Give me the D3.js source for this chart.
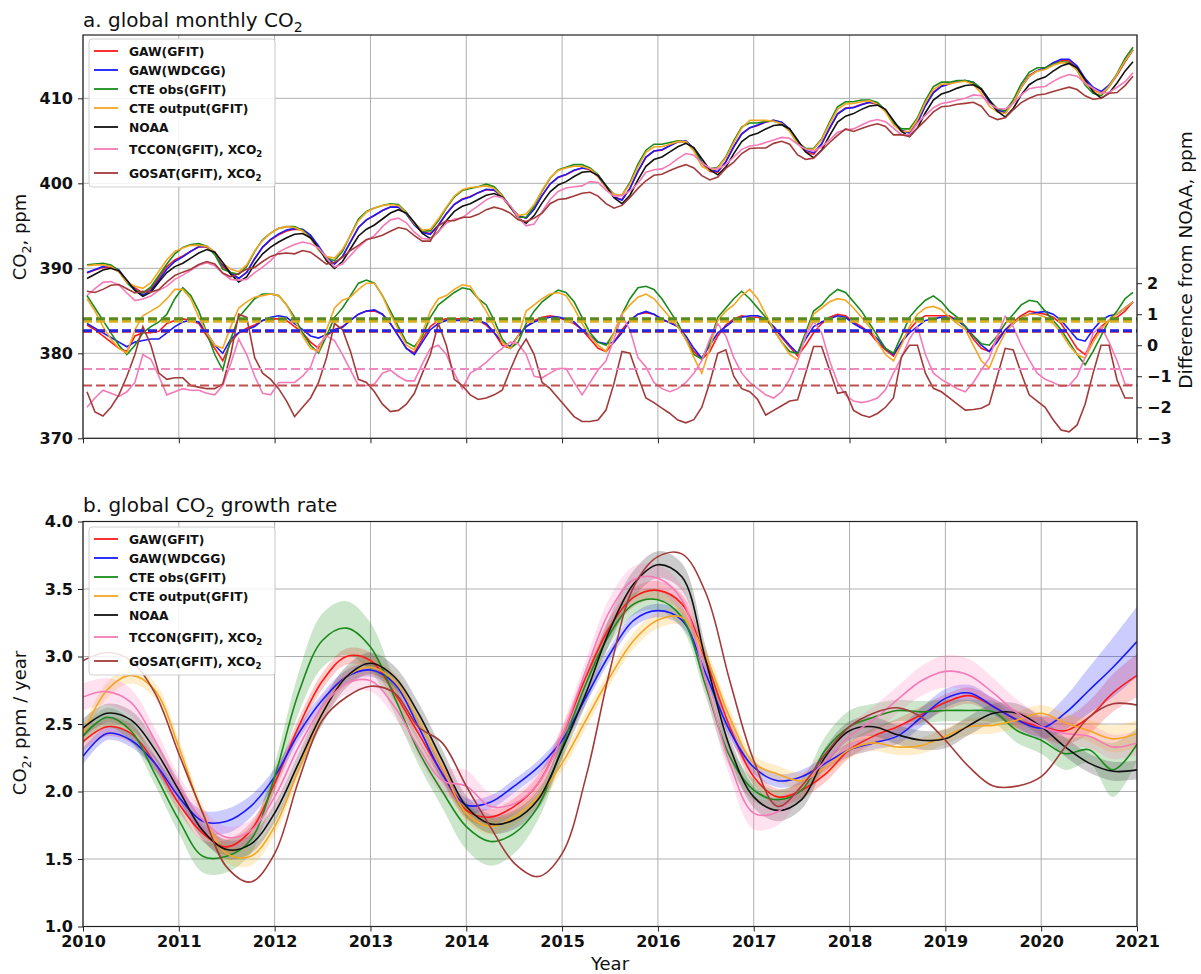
<!DOCTYPE html>
<html>
<head>
<meta charset="utf-8">
<script src="https://cdn.jsdelivr.net/npm/d3@7"></script>
<style>
  body { margin: 0; background: #fff; }
  text { font-family: "DejaVu Sans", sans-serif; }
</style>
</head>
<body>
<script>
// ticks
var yearTicks = [2010, 2011, 2012, 2013, 2014, 2015, 2016, 2017, 2018, 2019, 2020, 2021];
var co2Ticks = [370, 380, 390, 400, 410];
var diffTicks = [-3, -2, -1, 0, 1, 2];
var rateTicks = [1.0, 1.5, 2.0, 2.5, 3.0, 3.5, 4.0];

var seriesNames = ["GAW(GFIT)", "GAW(WDCGG)", "CTE obs(GFIT)", "CTE output(GFIT)", "NOAA",
  "TCCON(GFIT), XCO_2", "GOSAT(GFIT), XCO_2"];

// NOAA global monthly CO2 (ppm), Jan 2010 .. Dec 2020
var noaaMonthly = [
  388.8, 389.3, 389.8, 390.0, 389.7, 388.6, 387.4, 386.7, 387.2, 388.4, 389.5, 390.2,
  390.6, 391.2, 391.8, 392.2, 391.9, 390.7, 389.3, 388.4, 389.0, 390.5, 391.7, 392.5,
  393.1, 393.6, 394.0, 394.1, 393.6, 392.4, 390.9, 390.0, 390.8, 392.3, 393.8, 394.6,
  395.1, 395.8, 396.5, 396.9, 396.5, 395.4, 394.1, 393.5, 394.3, 395.6, 396.7, 397.3,
  397.6, 398.1, 398.6, 398.8, 398.4, 397.3, 395.9, 395.3, 396.2, 397.7, 399.0, 399.8,
  400.2, 400.8, 401.3, 401.4, 400.9, 399.7, 398.3, 397.6, 398.6, 400.4, 402.0, 402.8,
  403.1, 403.7, 404.3, 404.7, 404.2, 402.9, 401.6, 401.0, 401.9, 403.5, 404.9, 405.6,
  405.9, 406.4, 406.8, 406.9, 406.4, 405.1, 403.7, 403.0, 403.9, 405.6, 407.2, 407.9,
  408.2, 408.7, 409.1, 409.2, 408.7, 407.4, 406.1, 405.5, 406.5, 408.3, 409.8, 410.5,
  410.8, 411.2, 411.5, 411.6, 411.1, 409.8, 408.5, 407.8, 408.8, 410.4, 411.6, 412.2,
  412.5, 413.2, 413.8, 414.1, 413.6, 412.2, 410.8, 410.0, 410.6, 411.8, 413.2, 414.3
];

// monthly difference from NOAA (ppm)
var diffGawGfit = [
  0.65, 0.5, 0.3, 0.1, -0.1, -0.2, 0.3, 0.4, 0.4, 0.45, 0.7, 0.8,
  0.85, 0.8, 0.7, 0.3, -0.1, -0.5, 0.1, 0.4, 0.55, 0.65, 0.8, 0.85,
  0.85, 0.8, 0.6, 0.4, 0.1, -0.1, 0.3, 0.5, 0.6, 0.8, 1.0, 1.1,
  1.1, 1.0, 0.7, 0.3, -0.1, -0.25, 0.2, 0.6, 0.8, 0.85, 0.85, 0.85,
  0.85, 0.8, 0.65, 0.4, 0.0, -0.1, 0.3, 0.6, 0.8, 0.9, 0.95, 0.9,
  0.8, 0.7, 0.5, 0.2, -0.1, -0.2, 0.1, 0.5, 0.8, 1.0, 1.05, 1.0,
  0.8, 0.75, 0.6, 0.2, -0.2, -0.45, -0.2, 0.3, 0.65, 0.85, 0.95, 0.9,
  0.9, 0.8, 0.6, 0.25, -0.05, -0.35, 0.0, 0.4, 0.7, 0.9, 1.0, 0.95,
  0.75, 0.6, 0.4, 0.1, -0.15, -0.35, 0.1, 0.5, 0.8, 0.95, 0.95, 0.95,
  0.95, 0.8, 0.6, 0.2, -0.1, -0.2, 0.2, 0.5, 0.75, 0.95, 1.1, 1.05,
  1.0, 0.9, 0.7, 0.3, -0.1, -0.3, 0.2, 0.6, 0.8, 0.9, 1.1, 1.4
];
var diffGawWdcgg = [
  0.7, 0.55, 0.4, 0.25, 0.1, -0.05, 0.1, 0.15, 0.2, 0.2, 0.4, 0.6,
  0.75, 0.8, 0.75, 0.4, 0.0, -0.26, 0.2, 0.4, 0.5, 0.6, 0.8, 0.9,
  0.95, 0.9, 0.7, 0.5, 0.3, 0.23, 0.35, 0.5, 0.58, 0.8, 1.0, 1.1,
  1.14, 1.0, 0.7, 0.3, -0.1, -0.3, 0.1, 0.5, 0.7, 0.8, 0.8, 0.8,
  0.8, 0.8, 0.7, 0.4, 0.1, -0.04, 0.3, 0.6, 0.75, 0.85, 0.9, 0.91,
  0.85, 0.75, 0.5, 0.3, 0.1, 0.05, 0.1, 0.4, 0.8, 1.0, 1.09, 1.0,
  0.85, 0.72, 0.6, 0.3, -0.1, -0.42, 0.0, 0.4, 0.6, 0.8, 0.9, 0.95,
  0.95, 0.85, 0.6, 0.3, 0.0, -0.26, 0.2, 0.6, 0.75, 0.85, 0.95, 0.9,
  0.7, 0.55, 0.45, 0.2, -0.1, -0.3, 0.1, 0.4, 0.6, 0.8, 0.85, 0.9,
  0.9, 0.8, 0.6, 0.3, 0.0, -0.2, 0.1, 0.5, 0.7, 0.9, 1.0, 1.05,
  1.09, 1.0, 0.8, 0.5, 0.2, 0.13, 0.5, 0.8, 0.95, 1.0, 1.2, 1.4
];
var diffCteObs = [
  1.6, 1.2, 0.8, 0.4, 0.0, -0.3, 0.0, 0.4, 0.6, 0.75, 1.0, 1.5,
  1.85, 1.6, 1.1, 0.4, -0.3, -0.8, 0.2, 0.9, 1.2, 1.5, 1.65, 1.65,
  1.6, 1.3, 0.9, 0.4, 0.0, -0.25, 0.3, 0.9, 1.2, 1.6, 2.0, 2.1,
  2.0, 1.6, 1.1, 0.6, 0.1, -0.05, 0.3, 0.9, 1.3, 1.5, 1.7, 1.85,
  1.8, 1.5, 1.3, 0.8, 0.2, -0.1, 0.1, 0.7, 1.1, 1.4, 1.6, 1.78,
  1.7, 1.4, 0.9, 0.4, 0.1, 0.0, 0.4, 1.0, 1.5, 1.85, 1.9, 1.8,
  1.5, 1.1, 0.7, 0.2, -0.3, -0.45, 0.1, 0.9, 1.2, 1.5, 1.74, 1.5,
  1.2, 0.9, 0.5, 0.1, -0.2, -0.26, 0.4, 1.1, 1.3, 1.6, 1.8, 1.7,
  1.4, 1.1, 0.7, 0.3, -0.1, -0.26, 0.3, 0.9, 1.2, 1.45, 1.59, 1.4,
  1.1, 0.9, 0.6, 0.3, 0.05, 0.0, 0.3, 0.7, 1.0, 1.3, 1.45, 1.4,
  1.1, 0.8, 0.5, 0.1, -0.3, -0.63, -0.2, 0.3, 0.8, 1.1, 1.5, 1.7
];
var diffCteOut = [
  1.5, 1.1, 0.6, 0.2, -0.1, -0.25, 0.5, 0.95, 1.1, 1.25, 1.5, 1.8,
  1.8, 1.5, 0.9, 0.4, 0.0, -0.1, 0.6, 1.2, 1.4, 1.55, 1.6, 1.65,
  1.6, 1.3, 0.8, 0.3, -0.1, -0.2, 0.5, 1.2, 1.45, 1.55, 1.8, 2.0,
  2.0, 1.6, 1.0, 0.5, 0.0, -0.15, 0.4, 1.1, 1.5, 1.6, 1.8, 1.95,
  1.9, 1.5, 1.1, 0.6, 0.1, -0.1, 0.3, 1.1, 1.3, 1.5, 1.65, 1.7,
  1.6, 1.2, 0.7, 0.3, 0.0, -0.2, 0.4, 1.0, 1.3, 1.55, 1.65, 1.5,
  1.2, 0.9, 0.6, 0.2, -0.4, -0.9, -0.1, 0.8, 1.1, 1.3, 1.6, 1.8,
  1.5, 1.0, 0.5, 0.1, -0.3, -0.47, 0.3, 1.0, 1.2, 1.4, 1.5, 1.45,
  1.2, 0.9, 0.6, 0.1, -0.3, -0.5, 0.0, 0.6, 1.0, 1.2, 1.25, 1.15,
  0.9, 0.7, 0.5, 0.0, -0.5, -0.74, -0.1, 0.4, 0.7, 0.9, 1.0, 1.0,
  0.9, 0.7, 0.4, 0.0, -0.3, -0.42, 0.1, 0.5, 0.8, 1.0, 1.2, 1.4
];
var diffTccon = [
  -2.0, -1.7, -1.45, -1.55, -1.65, -1.5, -1.2, -0.3, -0.45, -1.0, -1.6, -1.5,
  -1.4, -1.45, -1.45, -1.55, -1.6, -1.3, -0.6, 0.2, -0.3, -1.0, -1.55, -1.6,
  -1.2, -1.2, -1.2, -1.0, -0.7, 0.0, 0.3, 0.15, -0.3, -0.8, -1.3, -1.3,
  -1.25, -0.9, -0.8, -1.0, -1.15, -1.15, -0.6, -0.1, 0.0, -0.3, -0.9, -1.4,
  -0.9, -0.75, -0.55, -0.3, -0.1, 0.1, 0.05, -0.3, -1.0, -1.05, -0.9, -0.75,
  -0.75, -1.2, -1.6, -1.2, -0.8, -0.5, 0.2, 0.95, 0.5, -0.4, -0.7, -1.2,
  -1.4, -1.5, -1.4, -1.2, -0.9, -0.5, 0.2, 0.7, 0.3, -0.4, -0.9, -1.2,
  -1.4, -1.6, -1.7, -1.5, -1.1, -0.5, 0.3, 0.77, 0.4, -0.5, -1.2, -1.6,
  -1.8, -1.85, -1.8, -1.7, -1.44, -0.9, -0.4, 0.2, 0.6, -0.3, -0.9, -1.1,
  -1.25, -1.4, -1.5, -1.2, -0.8, -0.42, 0.3, 0.93, 0.6, 0.0, -0.47, -0.9,
  -1.1, -1.2, -1.33, -1.3, -1.0, -0.4, 0.39, 0.6, 0.1, -0.5, -1.25, -1.28
];
var diffGosat = [
  -1.5, -2.15, -2.28, -2.0, -1.6, -1.0, -0.3, 0.6, 0.0, -0.9, -1.1, -1.05,
  -1.05, -1.3, -1.35, -1.4, -1.4, -1.25, -0.3, 1.0, 0.9, -0.4, -0.9, -1.1,
  -1.4, -1.8, -2.3, -2.0, -1.7, -1.2, -0.4, 0.7, 0.5, -0.2, -1.1, -1.2,
  -1.5, -1.9, -2.14, -2.1, -1.9, -1.55, -0.9, -0.3, 0.7, 0.0, -1.1, -1.3,
  -1.6, -1.75, -1.7, -1.6, -1.45, -0.8, -0.2, 0.2, -0.3, -1.2, -1.4, -1.7,
  -2.0, -2.3, -2.46, -2.46, -2.41, -2.09, -1.23, -0.2, -0.26, -1.0, -1.7, -1.85,
  -2.03, -2.2, -2.41, -2.5, -2.4, -2.0, -1.2, -0.26, -0.15, -1.0, -1.4, -1.5,
  -1.75, -2.25, -2.1, -1.95, -1.8, -1.76, -0.9, -0.04, -0.04, -0.8, -1.55, -1.5,
  -2.1, -2.25, -2.32, -2.2, -2.0, -1.7, -0.37, 0.0, 0.0, -0.9, -1.39, -1.5,
  -1.7, -1.9, -2.09, -2.07, -2.03, -1.9, -1.0, -0.1, -0.15, -0.9, -1.6, -1.8,
  -2.0, -2.4, -2.73, -2.79, -2.57, -1.9, -0.9, 0.0, 0.0, -1.12, -1.7, -1.7
];
// mean difference (dashed lines), ppm
var meanDiffs = [0.45, 0.47, 0.85, 0.77, null, -0.77, -1.3];

// growth rate, ppm/year, quarterly 2010.0 .. 2021.0
var rateGawGfit = [2.37, 2.48, 2.43, 2.21, 1.91, 1.69, 1.59, 1.71, 2.06, 2.48, 2.82, 3.0, 2.97, 2.73, 2.43,
  2.13, 1.86, 1.81, 1.89, 2.06, 2.41, 2.85, 3.22, 3.44, 3.49, 3.39, 2.97, 2.48, 2.11, 1.96,
  2.01, 2.13, 2.31, 2.41, 2.48, 2.57, 2.66, 2.71, 2.63, 2.53, 2.48, 2.45, 2.55, 2.73, 2.86];
var rateGawWdcgg = [2.26, 2.43, 2.38, 2.21, 1.96, 1.78, 1.78, 1.89, 2.11, 2.43, 2.68, 2.85, 2.9, 2.8, 2.48,
  2.13, 1.9, 1.92, 2.04, 2.18, 2.38, 2.7, 3.02, 3.27, 3.34, 3.27, 2.87, 2.45, 2.18, 2.08,
  2.11, 2.21, 2.31, 2.36, 2.41, 2.55, 2.69, 2.73, 2.63, 2.53, 2.47, 2.58, 2.75, 2.92, 3.11];
var rateCteObs = [2.41, 2.55, 2.45, 2.13, 1.79, 1.52, 1.52, 1.64, 2.11, 2.73, 3.12, 3.21, 3.07, 2.7, 2.3,
  2.0, 1.74, 1.63, 1.69, 1.89, 2.33, 2.8, 3.17, 3.39, 3.42, 3.29, 2.78, 2.26, 2.01, 1.94,
  2.01, 2.31, 2.48, 2.55, 2.6, 2.59, 2.6, 2.6, 2.59, 2.45, 2.38, 2.28, 2.31, 2.16, 2.35];
var rateCteOut = [2.43, 2.75, 2.86, 2.75, 2.33, 1.84, 1.54, 1.52, 1.74, 2.16, 2.58, 2.85, 2.92, 2.82, 2.53,
  2.18, 1.84, 1.74, 1.81, 1.96, 2.21, 2.53, 2.85, 3.12, 3.27, 3.29, 3.0, 2.55, 2.21, 2.13,
  2.08, 2.18, 2.31, 2.36, 2.33, 2.34, 2.41, 2.48, 2.49, 2.53, 2.58, 2.51, 2.45, 2.39, 2.43];
var rateNoaa = [2.47, 2.58, 2.53, 2.31, 2.01, 1.71, 1.57, 1.61, 1.84, 2.21, 2.58, 2.85, 2.95, 2.85, 2.58,
  2.23, 1.89, 1.76, 1.79, 1.94, 2.31, 2.73, 3.2, 3.54, 3.68, 3.59, 2.97, 2.33, 1.96, 1.86,
  1.94, 2.26, 2.45, 2.48, 2.42, 2.38, 2.39, 2.49, 2.58, 2.58, 2.48, 2.33, 2.21, 2.15, 2.16];
var rateTccon = [2.7, 2.74, 2.66, 2.38, 2.04, 1.79, 1.66, 1.71, 1.96, 2.33, 2.63, 2.8, 2.82, 2.63, 2.33,
  2.08, 2.04, 1.89, 1.91, 2.06, 2.41, 2.9, 3.34, 3.57, 3.58, 3.42, 2.82, 2.21, 1.84, 1.85,
  2.04, 2.23, 2.41, 2.53, 2.68, 2.82, 2.89, 2.86, 2.73, 2.58, 2.48, 2.43, 2.41, 2.33, 2.36];
var rateGosat = [2.97, 3.03, 2.97, 2.73, 2.28, 1.84, 1.44, 1.33, 1.54, 2.08, 2.53, 2.7, 2.78, 2.73, 2.48,
  2.36, 2.04, 1.74, 1.47, 1.37, 1.54, 2.11, 2.9, 3.52, 3.74, 3.76, 3.47, 2.82, 2.23, 1.89,
  2.04, 2.28, 2.48, 2.58, 2.62, 2.55, 2.38, 2.18, 2.04, 2.04, 2.11, 2.33, 2.55, 2.65, 2.64];

// uncertainty half width, ppm/year
var bandGawGfit = [0.07, 0.07, 0.07, 0.06, 0.06, 0.06, 0.06, 0.06, 0.06, 0.06, 0.06, 0.06, 0.06, 0.06, 0.06,
  0.06, 0.06, 0.06, 0.06, 0.06, 0.06, 0.06, 0.07, 0.07, 0.07, 0.07, 0.06, 0.06, 0.06, 0.06,
  0.06, 0.06, 0.06, 0.06, 0.06, 0.06, 0.06, 0.06, 0.06, 0.07, 0.08, 0.1, 0.12, 0.14, 0.16];
var bandGawWdcgg = [0.06, 0.05, 0.05, 0.05, 0.06, 0.08, 0.09, 0.08, 0.06, 0.05, 0.05, 0.05, 0.05, 0.05, 0.05,
  0.05, 0.05, 0.05, 0.05, 0.05, 0.05, 0.05, 0.05, 0.05, 0.05, 0.05, 0.05, 0.05, 0.05, 0.05,
  0.05, 0.05, 0.05, 0.05, 0.06, 0.07, 0.07, 0.06, 0.06, 0.06, 0.08, 0.12, 0.17, 0.22, 0.26];
var bandCteObs = [0.06, 0.07, 0.08, 0.08, 0.1, 0.12, 0.12, 0.1, 0.1, 0.15, 0.2, 0.2, 0.18, 0.12, 0.1,
  0.12, 0.17, 0.18, 0.15, 0.1, 0.08, 0.08, 0.08, 0.08, 0.08, 0.08, 0.08, 0.08, 0.08, 0.07,
  0.08, 0.1, 0.12, 0.1, 0.08, 0.08, 0.08, 0.08, 0.08, 0.09, 0.1, 0.12, 0.1, 0.2, 0.12];
var bandCteOut = [0.06, 0.06, 0.06, 0.06, 0.06, 0.06, 0.07, 0.07, 0.06, 0.06, 0.06, 0.06, 0.06, 0.06, 0.06,
  0.06, 0.06, 0.06, 0.06, 0.06, 0.06, 0.06, 0.06, 0.06, 0.06, 0.06, 0.06, 0.06, 0.06, 0.06,
  0.06, 0.06, 0.06, 0.06, 0.06, 0.06, 0.06, 0.06, 0.06, 0.06, 0.06, 0.07, 0.08, 0.1, 0.1];
var bandNoaa = [0.07, 0.07, 0.07, 0.07, 0.07, 0.07, 0.07, 0.07, 0.07, 0.07, 0.08, 0.08, 0.08, 0.08, 0.08,
  0.08, 0.08, 0.07, 0.07, 0.07, 0.07, 0.08, 0.1, 0.1, 0.1, 0.1, 0.1, 0.08, 0.08, 0.08,
  0.07, 0.07, 0.07, 0.07, 0.07, 0.07, 0.07, 0.07, 0.07, 0.07, 0.07, 0.07, 0.07, 0.07, 0.07];
var bandTccon = [0.1, 0.1, 0.1, 0.09, 0.08, 0.08, 0.08, 0.08, 0.08, 0.08, 0.08, 0.08, 0.08, 0.08, 0.08,
  0.1, 0.12, 0.1, 0.08, 0.08, 0.08, 0.08, 0.1, 0.1, 0.1, 0.1, 0.1, 0.1, 0.12, 0.1,
  0.08, 0.08, 0.09, 0.1, 0.1, 0.11, 0.12, 0.12, 0.11, 0.1, 0.09, 0.09, 0.09, 0.09, 0.09];
var bandGosat = [];

var monthlyDiffs = [diffGawGfit, diffGawWdcgg, diffCteObs, diffCteOut, null, diffTccon, diffGosat];
var rates = [rateGawGfit, rateGawWdcgg, rateCteObs, rateCteOut, rateNoaa, rateTccon, rateGosat];
var bands = [bandGawGfit, bandGawWdcgg, bandCteObs, bandCteOut, bandNoaa, bandTccon, bandGosat];

// styling
var colors = ["#ff1a1a", "#1a1aff", "#1a8a1a", "#f5a623", "#111111", "#f57ab8", "#a33a3a"];
var bandColors = ["#ff0000", "#0000ff", "#008000", "#ffa500", "#555555", "#ff69b4", "#a52a2a"];
var dashColors = ["#e03030", "#2525e0", "#5a8a1e", "#d9b020", null, "#ef8ac0", "#c0504d"];
var dashWidths = [3, 3, 3, 3, 0, 2, 2];

var W = 1201, H = 974;
var left = 83, right = 1137;
var topA = 35, botA = 438.3;
var topB = 521.5, botB = 926.5;

var svg = d3.select("body").append("svg")
  .attr("width", W).attr("height", H);

var x = d3.scaleLinear().domain([2010, 2021]).range([left, right]);
var yA = d3.scaleLinear().domain([370, 417.45]).range([botA, topA]);
var yD = d3.scaleLinear().domain([-3, 10]).range([botA, topA]);
var yB = d3.scaleLinear().domain([1, 4]).range([botB, topB]);

function monthX(i) { return 2010 + (i + 0.5) / 12; }
function quarterX(k) { return 2010 + k * 0.25; }

// text with subscript 2 written as "_2"
function subText(sel, label, size) {
  var parts = label.split("_2");
  var shift = size * 0.25;
  parts.forEach(function(p, i) {
    var t = sel.append("tspan").text(p);
    if (i > 0) t.attr("dy", -shift);
    if (i < parts.length - 1) {
      sel.append("tspan").attr("font-size", size * 0.7).attr("dy", shift).text("2");
    }
  });
}

var defs = svg.append("defs");
defs.append("clipPath").attr("id", "clipA").append("rect")
  .attr("x", left).attr("y", topA).attr("width", right - left).attr("height", botA - topA);
defs.append("clipPath").attr("id", "clipB").append("rect")
  .attr("x", left).attr("y", topB).attr("width", right - left).attr("height", botB - topB);

function grid(g, yScale, yticks, top, bot) {
  g.selectAll(".vg").data(yearTicks).enter().append("line")
    .attr("x1", function(d) { return x(d); }).attr("x2", function(d) { return x(d); })
    .attr("y1", top).attr("y2", bot)
    .attr("stroke", "#b0b0b0").attr("stroke-width", 1);
  g.selectAll(".hg").data(yticks).enter().append("line")
    .attr("x1", left).attr("x2", right)
    .attr("y1", function(d) { return yScale(d); }).attr("y2", function(d) { return yScale(d); })
    .attr("stroke", "#b0b0b0").attr("stroke-width", 1);
}

function styleAxis(g) {
  g.select(".domain").remove();
  g.selectAll(".tick line").attr("stroke", "#222").attr("stroke-width", 1);
  g.selectAll(".tick text").attr("font-size", 16).attr("font-weight", "bold")
    .attr("fill", "#111").attr("font-family", "DejaVu Sans");
}

function legend(top) {
  var g = svg.append("g").attr("transform", "translate(89," + top + ")");
  g.append("rect").attr("width", 186).attr("height", 148).attr("rx", 3)
    .attr("fill", "white").attr("fill-opacity", 0.85).attr("stroke", "#d0d0d0");
  var rows = [12, 31, 50, 69, 88, 110, 134];
  seriesNames.forEach(function(name, j) {
    g.append("line").attr("x1", 5).attr("x2", 29).attr("y1", rows[j]).attr("y2", rows[j])
      .attr("stroke", colors[j]).attr("stroke-width", 1.8);
    var t = g.append("text").attr("x", 40).attr("y", rows[j] + 4.5)
      .attr("font-size", 12.3).attr("font-weight", "bold").attr("fill", "#111");
    subText(t, name, 12.3);
  });
}

// ---------- panel a ----------
var gA = svg.append("g");
grid(gA, yA, co2Ticks, topA, botA);

var plotA = gA.append("g").attr("clip-path", "url(#clipA)");
var lineA = d3.line().x(function(d, i) { return x(monthX(i)); }).y(function(d) { return yA(d); });
var lineD = d3.line().x(function(d, i) { return x(monthX(i)); }).y(function(d) { return yD(d); });

// series level curves: NOAA plus each difference
monthlyDiffs.forEach(function(diff, j) {
  var vals = diff ? noaaMonthly.map(function(v, i) { return v + diff[i]; }) : noaaMonthly;
  plotA.append("path").datum(vals).attr("d", lineA)
    .attr("fill", "none").attr("stroke", colors[j]).attr("stroke-width", 1.6);
});
// differences on the right axis
monthlyDiffs.forEach(function(diff, j) {
  if (!diff) return;
  plotA.append("path").datum(diff).attr("d", lineD)
    .attr("fill", "none").attr("stroke", colors[j]).attr("stroke-width", 1.6);
});
// mean differences
[0, 1, 3, 2, 5, 6].forEach(function(j) {
  plotA.append("line")
    .attr("x1", left).attr("x2", right)
    .attr("y1", yD(meanDiffs[j])).attr("y2", yD(meanDiffs[j]))
    .attr("stroke", dashColors[j]).attr("stroke-width", dashWidths[j])
    .attr("stroke-dasharray", "9,4");
});

gA.append("g").attr("transform", "translate(" + left + ",0)")
  .call(d3.axisLeft(yA).tickValues(co2Ticks).tickSize(5).tickPadding(5).tickSizeOuter(0))
  .call(styleAxis);
gA.append("g").attr("transform", "translate(" + right + ",0)")
  .call(d3.axisRight(yD).tickValues(diffTicks).tickSize(5).tickPadding(5).tickSizeOuter(0)
    .tickFormat(function(d) { return d < 0 ? "\u2212" + Math.abs(d) : d; }))
  .call(styleAxis);
gA.append("g").attr("transform", "translate(0," + botA + ")")
  .call(d3.axisBottom(x).tickValues(yearTicks).tickSize(5).tickFormat("").tickSizeOuter(0))
  .call(styleAxis);
gA.append("rect").attr("x", left).attr("y", topA).attr("width", right - left).attr("height", botA - topA)
  .attr("fill", "none").attr("stroke", "#222").attr("stroke-width", 1.2);

legend(39);

var tA = svg.append("text").attr("x", left).attr("y", 27).attr("font-size", 20).attr("fill", "#111");
subText(tA, "a. global monthly CO_2", 20);
var lA = svg.append("text").attr("transform", "translate(26,237) rotate(-90)")
  .attr("text-anchor", "middle").attr("font-size", 18).attr("fill", "#111");
subText(lA, "CO_2, ppm", 18);
svg.append("text").attr("transform", "translate(1192,260) rotate(-90)")
  .attr("text-anchor", "middle").attr("font-size", 18.5).attr("fill", "#111")
  .text("Difference from NOAA, ppm");

// ---------- panel b ----------
var gB = svg.append("g");
grid(gB, yB, rateTicks, topB, botB);
var plotB = gB.append("g").attr("clip-path", "url(#clipB)");

var area = d3.area().curve(d3.curveCatmullRom)
  .x(function(d, i) { return x(quarterX(i)); })
  .y0(function(d) { return yB(d[0] - d[1]); })
  .y1(function(d) { return yB(d[0] + d[1]); });
var lineB = d3.line().curve(d3.curveCatmullRom)
  .x(function(d, i) { return x(quarterX(i)); })
  .y(function(d) { return yB(d); });

rates.forEach(function(r, j) {
  if (!bands[j].length) return;
  var pairs = r.map(function(v, i) { return [v, bands[j][i]]; });
  plotB.append("path").datum(pairs).attr("d", area)
    .attr("fill", bandColors[j]).attr("fill-opacity", j == 4 ? 0.3 : 0.2).attr("stroke", "none");
});
rates.forEach(function(r, j) {
  plotB.append("path").datum(r).attr("d", lineB)
    .attr("fill", "none").attr("stroke", colors[j]).attr("stroke-width", 1.6);
});

gB.append("g").attr("transform", "translate(" + left + ",0)")
  .call(d3.axisLeft(yB).tickValues(rateTicks).tickSize(5).tickPadding(5).tickSizeOuter(0)
    .tickFormat(d3.format(".1f")))
  .call(styleAxis);
gB.append("g").attr("transform", "translate(0," + botB + ")")
  .call(d3.axisBottom(x).tickValues(yearTicks).tickSize(5).tickPadding(4).tickSizeOuter(0)
    .tickFormat(d3.format("d")))
  .call(styleAxis);
gB.append("rect").attr("x", left).attr("y", topB).attr("width", right - left).attr("height", botB - topB)
  .attr("fill", "none").attr("stroke", "#222").attr("stroke-width", 1.2);

legend(527);

var tB = svg.append("text").attr("x", left).attr("y", 512).attr("font-size", 20).attr("fill", "#111");
subText(tB, "b. global CO_2 growth rate", 20);
var lB = svg.append("text").attr("transform", "translate(26,723) rotate(-90)")
  .attr("text-anchor", "middle").attr("font-size", 18).attr("fill", "#111");
subText(lB, "CO_2, ppm / year", 18);
svg.append("text").attr("x", (left + right) / 2).attr("y", 970)
  .attr("text-anchor", "middle").attr("font-size", 18).attr("fill", "#111").text("Year");
</script>
</body>
</html>
